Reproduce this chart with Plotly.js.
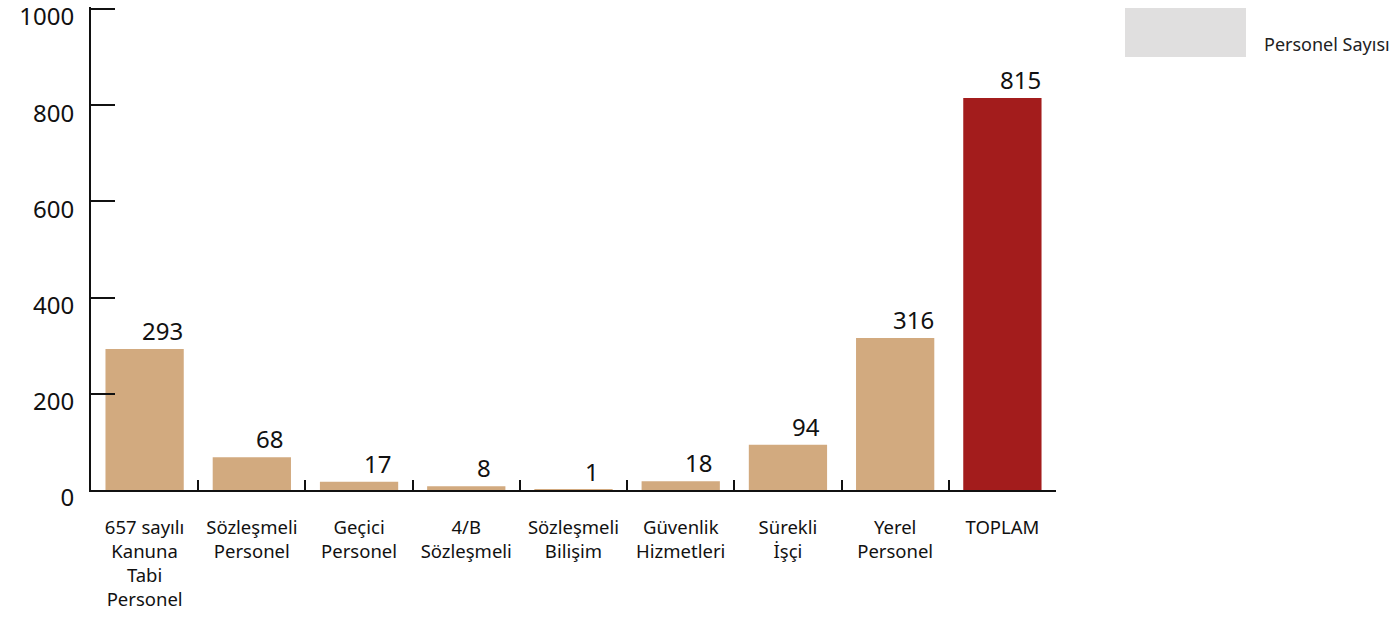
<!DOCTYPE html>
<html>
<head>
<meta charset="utf-8">
<script src="https://cdn.plot.ly/plotly-3.0.1.min.js"></script>
<style>html,body{margin:0;padding:0;background:#fff;}#chart{width:1395px;height:619px;}</style>
</head>
<body>
<div id="chart"></div>
<script>
const categories = [
  "657 sayılı<br>Kanuna<br>Tabi<br>Personel",
  "Sözleşmeli<br>Personel",
  "Geçici<br>Personel",
  "4/B<br>Sözleşmeli",
  "Sözleşmeli<br>Bilişim",
  "Güvenlik<br>Hizmetleri",
  "Sürekli<br>İşçi",
  "Yerel<br>Personel",
  "TOPLAM"
];
const values = [293, 68, 17, 8, 1, 18, 94, 316, 815];
const seriesName = "Personel Sayısı";
const yTicks = [0, 200, 400, 600, 800, 1000];

const tan = "#d2aa7f", red = "#a31c1c";
const colors = categories.map(c => c === "TOPLAM" ? red : tan);
const FONT = "Noto Sans, Open Sans, sans-serif";

const trace = {
  type: "bar",
  x: categories,
  y: values,
  name: seriesName,
  marker: {color: colors},
  showlegend: false,
  hoverinfo: "x+y"
};

const annotations = categories.map((c, i) => ({
  x: c, y: values[i], xref: "x", yref: "y",
  text: String(values[i]), showarrow: false,
  yanchor: "bottom", xanchor: "center", xshift: 18, yshift: 0,
  font: {family: FONT, size: 24, color: "#111"}
}));
annotations.push({
  xref: "paper", yref: "paper", x: 1.2135, y: 0.924,
  xanchor: "left", yanchor: "middle", showarrow: false,
  text: seriesName, font: {family: FONT, size: 18, color: "#222"}
});

const layout = {
  width: 1395, height: 619,
  margin: {l: 91, r: 339, t: 7, b: 129},
  paper_bgcolor: "#fff", plot_bgcolor: "#fff",
  font: {family: FONT, color: "#111"},
  bargap: 0.27,
  showlegend: false,
  xaxis: {
    type: "category",
    showline: true, linecolor: "#111", linewidth: 2,
    ticks: "inside", tickson: "boundaries", ticklen: 10, tickwidth: 2, tickcolor: "#111",
    tickfont: {family: FONT, size: 18.5, color: "#111"},
    ticklabelstandoff: 20,
    showgrid: false, zeroline: false, tickangle: 0
  },
  yaxis: {
    range: [0, 1004], tickvals: yTicks,
    showline: true, linecolor: "#111", linewidth: 2,
    ticks: "inside", ticklen: 24, tickwidth: 2, tickcolor: "#111",
    tickfont: {family: FONT, size: 24, color: "#111"},
    ticklabelshift: 8, ticklabelstandoff: 10, ticklabeloverflow: "allow",
    showgrid: false, zeroline: false
  },
  shapes: [{
    type: "rect", xref: "paper", yref: "paper",
    x0: 1.0715, x1: 1.1969, y0: 0.8965, y1: 0.998,
    fillcolor: "#e0dfdf", line: {width: 0}
  }],
  annotations: annotations
};

Plotly.newPlot("chart", [trace], layout, {displayModeBar: false, responsive: false});
</script>
</body>
</html>
